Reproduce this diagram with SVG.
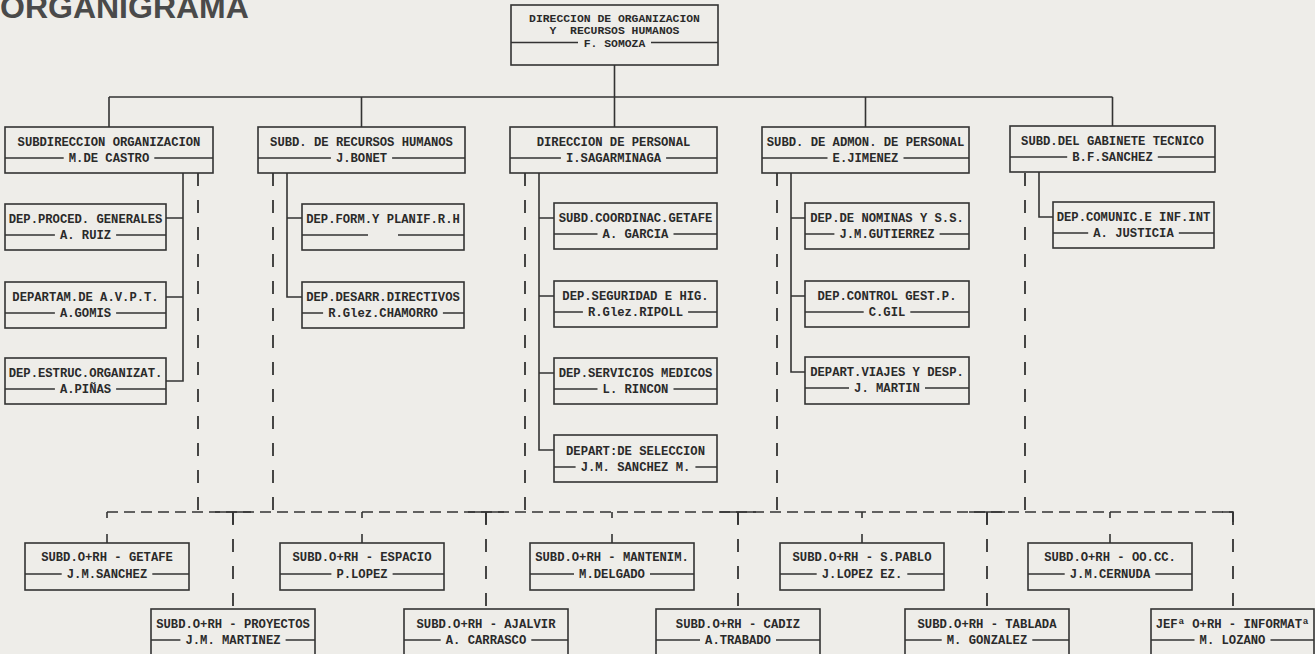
<svg xmlns="http://www.w3.org/2000/svg" width="1315" height="654" viewBox="0 0 1315 654">
<style>
.bg{fill:#eeede9}
.box{fill:none;stroke:#333;stroke-width:1.6}
.t{font-family:"Liberation Mono","DejaVu Sans Mono",monospace;font-weight:bold;font-size:12.2px;fill:#2a2a2a;text-anchor:middle}
.tt{font-family:"Liberation Mono","DejaVu Sans Mono",monospace;font-weight:bold;font-size:11.4px;fill:#2a2a2a;text-anchor:middle}
.ln{stroke:#333;stroke-width:1.4;fill:none}
.c{fill:none;stroke:#333;stroke-width:1.6}
.dv{fill:none;stroke:#333;stroke-width:1.8;stroke-dasharray:13 14}
.dh{fill:none;stroke:#333;stroke-width:1.6;stroke-dasharray:11 6}
.ds{fill:none;stroke:#333;stroke-width:1.6;stroke-dasharray:6 16 9}
.title{font-family:"Liberation Sans",Arial,sans-serif;font-weight:bold;font-size:32px;fill:#4a4a4a}
</style>
<rect class="bg" x="0" y="0" width="1315" height="654"/>
<text class="title" x="0" y="18">ORGANIGRAMA</text>

<g id="connectors">
  <path class="c" d="M614.5 65V127M109 97H1112.5M109 97V127M361.5 97V127M865.5 97V127M1112.5 97V126"/>
  <path class="c" d="M183 173V381H166M183 218H166M183 297H166"/>
  <path class="c" d="M287 173V297H302M287 218H302"/>
  <path class="c" d="M539 173V450H554M539 218H554M539 296H554M539 373H554"/>
  <path class="c" d="M791 173V372H805M791 218H805M791 296H805"/>
  <path class="c" d="M1039 172V217H1053"/>
  <path class="dv" d="M198 173V512M273 173V512M525 173V512M777 173V512M1025 173V512"/>
  <path class="dh" d="M107 512H1233"/>
  <path class="ds" d="M107 512V543M362 512V543M612 512V543M862 512V543M1110 512V543"/>
  <path class="dv" d="M233 512V609M486 512V609M738 512V609M987 512V609M1233 512V609"/>
  <path class="c" d="M215 512H251M233 512V524M468 512H504M486 512V524M720 512H756M738 512V524M969 512H1005M987 512V524M1222 512H1233V522"/>
</g>

<g id="n-top">
  <rect class="box" x="511" y="5" width="207" height="60"/>
  <text class="tt" x="614.5" y="21.5">DIRECCION DE ORGANIZACION</text>
  <text class="tt" x="614.5" y="34" xml:space="preserve">Y  RECURSOS HUMANOS</text>
  <text class="tt" x="614.5" y="46.5">F. SOMOZA</text>
  <path class="ln" d="M511 42.5H578M651 42.5H718"/>
</g>

<g id="n-subdir-org">
  <rect class="box" x="5" y="127" width="208" height="46"/>
  <text class="t" x="109" y="146">SUBDIRECCION ORGANIZACION</text>
  <text class="t" x="109" y="162">M.DE CASTRO</text>
  <path class="ln" d="M5 158H63.7M154.3 158H213"/>
</g>
<g id="n-subd-rrhh">
  <rect class="box" x="258" y="127" width="207" height="46"/>
  <text class="t" x="361.5" y="146">SUBD. DE RECURSOS HUMANOS</text>
  <text class="t" x="361.5" y="162">J.BONET</text>
  <path class="ln" d="M258 158H330.9M392.1 158H465"/>
</g>
<g id="n-dir-personal">
  <rect class="box" x="510" y="127" width="207" height="46"/>
  <text class="t" x="613.5" y="146">DIRECCION DE PERSONAL</text>
  <text class="t" x="613.5" y="162">I.SAGARMINAGA</text>
  <path class="ln" d="M510 158H560.9M666.1 158H717"/>
</g>
<g id="n-subd-admon">
  <rect class="box" x="762" y="127" width="207" height="46"/>
  <text class="t" x="865.5" y="146">SUBD. DE ADMON. DE PERSONAL</text>
  <text class="t" x="865.5" y="162">E.JIMENEZ</text>
  <path class="ln" d="M762 158H827.5M903.5 158H969"/>
</g>
<g id="n-subd-gabinete">
  <rect class="box" x="1010" y="126" width="205" height="46"/>
  <text class="t" x="1112.5" y="145">SUBD.DEL GABINETE TECNICO</text>
  <text class="t" x="1112.5" y="161">B.F.SANCHEZ</text>
  <path class="ln" d="M1010 157H1067.2M1157.8 157H1215"/>
</g>

<g id="n-proced">
  <rect class="box" x="5" y="204" width="161" height="46"/>
  <text class="t" x="85.5" y="223">DEP.PROCED. GENERALES</text>
  <text class="t" x="85.5" y="239">A. RUIZ</text>
  <path class="ln" d="M5 235H54.9M116.1 235H166"/>
</g>
<g id="n-avpt">
  <rect class="box" x="5" y="282" width="161" height="46"/>
  <text class="t" x="85.5" y="301">DEPARTAM.DE A.V.P.T.</text>
  <text class="t" x="85.5" y="317">A.GOMIS</text>
  <path class="ln" d="M5 313H54.9M116.1 313H166"/>
</g>
<g id="n-estruc">
  <rect class="box" x="5" y="358" width="161" height="46"/>
  <text class="t" x="85.5" y="377">DEP.ESTRUC.ORGANIZAT.</text>
  <text class="t" x="85.5" y="393">A.PIÑAS</text>
  <path class="ln" d="M5 389H54.9M116.1 389H166"/>
</g>

<g id="n-form">
  <rect class="box" x="302" y="204" width="162" height="46"/>
  <text class="t" x="383" y="223">DEP.FORM.Y PLANIF.R.H</text>
  <path class="ln" d="M302 235H368M398 235H464"/>
</g>
<g id="n-desarr">
  <rect class="box" x="302" y="282" width="162" height="46"/>
  <text class="t" x="383" y="301">DEP.DESARR.DIRECTIVOS</text>
  <text class="t" x="383" y="317">R.Glez.CHAMORRO</text>
  <path class="ln" d="M302 313H323.1M442.9 313H464"/>
</g>

<g id="n-coord-getafe">
  <rect class="box" x="554" y="203" width="163" height="46"/>
  <text class="t" x="635.5" y="222">SUBD.COORDINAC.GETAFE</text>
  <text class="t" x="635.5" y="238">A. GARCIA</text>
  <path class="ln" d="M554 234H597.5M673.5 234H717"/>
</g>
<g id="n-seguridad">
  <rect class="box" x="554" y="281" width="163" height="46"/>
  <text class="t" x="635.5" y="300">DEP.SEGURIDAD E HIG.</text>
  <text class="t" x="635.5" y="316">R.Glez.RIPOLL</text>
  <path class="ln" d="M554 312H582.9M688.1 312H717"/>
</g>
<g id="n-medicos">
  <rect class="box" x="554" y="358" width="163" height="46"/>
  <text class="t" x="635.5" y="377">DEP.SERVICIOS MEDICOS</text>
  <text class="t" x="635.5" y="393">L. RINCON</text>
  <path class="ln" d="M554 389H597.5M673.5 389H717"/>
</g>
<g id="n-seleccion">
  <rect class="box" x="554" y="435" width="163" height="47"/>
  <text class="t" x="635.5" y="455">DEPART:DE SELECCION</text>
  <text class="t" x="635.5" y="471">J.M. SANCHEZ M.</text>
  <path class="ln" d="M554 467H575.6M695.4 467H717"/>
</g>

<g id="n-nominas">
  <rect class="box" x="805" y="203" width="164" height="46"/>
  <text class="t" x="887" y="222">DEP.DE NOMINAS Y S.S.</text>
  <text class="t" x="887" y="238">J.M.GUTIERREZ</text>
  <path class="ln" d="M805 234H834.4M939.6 234H969"/>
</g>
<g id="n-control">
  <rect class="box" x="805" y="281" width="164" height="46"/>
  <text class="t" x="887" y="300">DEP.CONTROL GEST.P.</text>
  <text class="t" x="887" y="316">C.GIL</text>
  <path class="ln" d="M805 312H863.7M910.3 312H969"/>
</g>
<g id="n-viajes">
  <rect class="box" x="805" y="357" width="164" height="47"/>
  <text class="t" x="887" y="376">DEPART.VIAJES Y DESP.</text>
  <text class="t" x="887" y="392">J. MARTIN</text>
  <path class="ln" d="M805 388H849M925 388H969"/>
</g>

<g id="n-comunic">
  <rect class="box" x="1053" y="202" width="161" height="46"/>
  <text class="t" x="1133.5" y="221">DEP.COMUNIC.E INF.INT</text>
  <text class="t" x="1133.5" y="237">A. JUSTICIA</text>
  <path class="ln" d="M1053 233H1088.2M1178.8 233H1214"/>
</g>

<g id="n-getafe">
  <rect class="box" x="25" y="543" width="164" height="47"/>
  <text class="t" x="107" y="561">SUBD.O+RH - GETAFE</text>
  <text class="t" x="107" y="578">J.M.SANCHEZ</text>
  <path class="ln" d="M25 574H61.7M152.3 574H189"/>
</g>
<g id="n-espacio">
  <rect class="box" x="280" y="543" width="164" height="47"/>
  <text class="t" x="362" y="561">SUBD.O+RH - ESPACIO</text>
  <text class="t" x="362" y="578">P.LOPEZ</text>
  <path class="ln" d="M280 574H331.4M392.6 574H444"/>
</g>
<g id="n-mantenim">
  <rect class="box" x="530" y="543" width="164" height="47"/>
  <text class="t" x="612" y="561">SUBD.O+RH - MANTENIM.</text>
  <text class="t" x="612" y="578">M.DELGADO</text>
  <path class="ln" d="M530 574H574M650 574H694"/>
</g>
<g id="n-spablo">
  <rect class="box" x="780" y="543" width="164" height="47"/>
  <text class="t" x="862" y="561">SUBD.O+RH - S.PABLO</text>
  <text class="t" x="862" y="578">J.LOPEZ EZ.</text>
  <path class="ln" d="M780 574H816.7M907.3 574H944"/>
</g>
<g id="n-oocc">
  <rect class="box" x="1028" y="543" width="164" height="47"/>
  <text class="t" x="1110" y="561">SUBD.O+RH - OO.CC.</text>
  <text class="t" x="1110" y="578">J.M.CERNUDA</text>
  <path class="ln" d="M1028 574H1064.7M1155.3 574H1192"/>
</g>

<g id="n-proyectos">
  <rect class="box" x="151" y="609" width="164" height="52"/>
  <text class="t" x="233" y="628">SUBD.O+RH - PROYECTOS</text>
  <text class="t" x="233" y="644">J.M. MARTINEZ</text>
  <path class="ln" d="M151 640H180.4M285.6 640H315"/>
</g>
<g id="n-ajalvir">
  <rect class="box" x="404" y="609" width="164" height="52"/>
  <text class="t" x="486" y="628">SUBD.O+RH - AJALVIR</text>
  <text class="t" x="486" y="644">A. CARRASCO</text>
  <path class="ln" d="M404 640H440.7M531.3 640H568"/>
</g>
<g id="n-cadiz">
  <rect class="box" x="656" y="609" width="164" height="52"/>
  <text class="t" x="738" y="628">SUBD.O+RH - CADIZ</text>
  <text class="t" x="738" y="644">A.TRABADO</text>
  <path class="ln" d="M656 640H700M776 640H820"/>
</g>
<g id="n-tablada">
  <rect class="box" x="905" y="609" width="164" height="52"/>
  <text class="t" x="987" y="628">SUBD.O+RH - TABLADA</text>
  <text class="t" x="987" y="644">M. GONZALEZ</text>
  <path class="ln" d="M905 640H941.7M1032.3 640H1069"/>
</g>
<g id="n-informat">
  <rect class="box" x="1151" y="609" width="163" height="52"/>
  <text class="t" x="1232.5" y="628">JEFª O+RH - INFORMATª</text>
  <text class="t" x="1232.5" y="644">M. LOZANO</text>
  <path class="ln" d="M1151 640H1194.5M1270.5 640H1314"/>
</g>
</svg>
